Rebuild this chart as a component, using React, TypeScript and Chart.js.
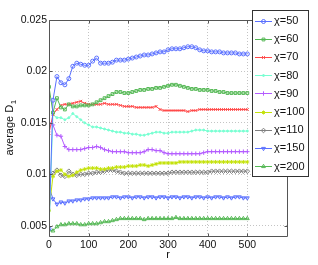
import React, { useEffect, useRef } from 'react';
import { Chart, registerables } from 'chart.js';
import { drawPoint } from 'chart.js/helpers';

Chart.register(...registerables);

const rValues = [
  0, 10, 20, 30, 40, 50, 60, 70, 80, 90,
  100, 110, 120, 130, 140, 150, 160, 170, 180, 190,
  200, 210, 220, 230, 240, 250, 260, 270, 280, 290,
  300, 310, 320, 330, 340, 350, 360, 370, 380, 390,
  400, 410, 420, 430, 440, 450, 460, 470, 480, 490,
  500,
];

const seriesLabels = ['χ=50', 'χ=60', 'χ=70', 'χ=80', 'χ=90', 'χ=100', 'χ=110', 'χ=150', 'χ=200'];

const chi50 = [
  0.0047, 0.0172, 0.0195, 0.0189, 0.0187, 0.0193, 0.0205, 0.0208, 0.0207, 0.0206,
  0.0206, 0.0210, 0.0213, 0.0208, 0.0208, 0.0208, 0.0209, 0.0211, 0.0211, 0.0211,
  0.0212, 0.0213, 0.0214, 0.0215, 0.0216, 0.0216, 0.0217, 0.0218, 0.0219, 0.0219,
  0.0221, 0.0222, 0.0222, 0.0222, 0.0223, 0.0224, 0.0224, 0.0223, 0.0221, 0.0220,
  0.0220, 0.0219, 0.0219, 0.0219, 0.0218, 0.0218, 0.0218, 0.0218, 0.0217, 0.0217,
  0.0217,
];
const chi60 = [
  0.0185, 0.0160, 0.0174, 0.0165, 0.0163, 0.0168, 0.0166, 0.0166, 0.0167, 0.0167,
  0.0167, 0.0168, 0.0170, 0.0172, 0.0174, 0.0176, 0.0178, 0.0180, 0.0180, 0.0179,
  0.0179, 0.0180, 0.0181, 0.0182, 0.0182, 0.0183, 0.0183, 0.0184, 0.0184, 0.0185,
  0.0186, 0.0187, 0.0187, 0.0186, 0.0185, 0.0184, 0.0183, 0.0183, 0.0182, 0.0182,
  0.0182, 0.0181, 0.0181, 0.0180, 0.0180, 0.0179, 0.0179, 0.0179, 0.0179, 0.0179,
  0.0179,
];
const chi70 = [
  0.0140, 0.0158, 0.0163, 0.0167, 0.0168, 0.0168, 0.0169, 0.0170, 0.0171, 0.0169,
  0.0168, 0.0168, 0.0168, 0.0168, 0.0169, 0.0168, 0.0168, 0.0168, 0.0167, 0.0166,
  0.0166, 0.0166, 0.0165, 0.0165, 0.0165, 0.0165, 0.0165, 0.0166, 0.0163, 0.0162,
  0.0162, 0.0162, 0.0162, 0.0162, 0.0162, 0.0161, 0.0162, 0.0162, 0.0163, 0.0163,
  0.0163, 0.0163, 0.0163, 0.0163, 0.0163, 0.0163, 0.0163, 0.0163, 0.0163, 0.0163,
  0.0163,
];
const chi80 = [
  0.0046, 0.0158, 0.0155, 0.0155, 0.0153, 0.0155, 0.0159, 0.0156, 0.0153, 0.0150,
  0.0148, 0.0146, 0.0146, 0.0145, 0.0144, 0.0143, 0.0142, 0.0141, 0.0141, 0.0140,
  0.0140, 0.0139, 0.0139, 0.0138, 0.0138, 0.0139, 0.0140, 0.0141, 0.0141, 0.0140,
  0.0140, 0.0141, 0.0141, 0.0141, 0.0141, 0.0141, 0.0142, 0.0143, 0.0143, 0.0143,
  0.0142, 0.0142, 0.0142, 0.0142, 0.0142, 0.0142, 0.0142, 0.0142, 0.0142, 0.0142,
  0.0142,
];
const chi90 = [
  0.0150, 0.0148, 0.0138, 0.0137, 0.0127, 0.0124, 0.0124, 0.0124, 0.0124, 0.0125,
  0.0126, 0.0126, 0.0127, 0.0126, 0.0124, 0.0123, 0.0122, 0.0122, 0.0122, 0.0122,
  0.0121, 0.0121, 0.0121, 0.0121, 0.0122, 0.0124, 0.0124, 0.0123, 0.0123, 0.0121,
  0.0120, 0.0120, 0.0120, 0.0120, 0.0120, 0.0120, 0.0120, 0.0120, 0.0120, 0.0121,
  0.0122, 0.0122, 0.0122, 0.0122, 0.0122, 0.0122, 0.0122, 0.0122, 0.0122, 0.0122,
  0.0122,
];
const chi100 = [
  0.0065, 0.0098, 0.0103, 0.0104, 0.0100, 0.0098, 0.0099, 0.0102, 0.0104, 0.0105,
  0.0106, 0.0106, 0.0106, 0.0105, 0.0105, 0.0106, 0.0106, 0.0107, 0.0107, 0.0107,
  0.0108, 0.0108, 0.0108, 0.0109, 0.0109, 0.0108, 0.0109, 0.0110, 0.0111, 0.0111,
  0.0111, 0.0111, 0.0111, 0.0112, 0.0112, 0.0112, 0.0112, 0.0112, 0.0112, 0.0112,
  0.0112, 0.0112, 0.0112, 0.0112, 0.0112, 0.0112, 0.0112, 0.0112, 0.0112, 0.0112,
  0.0112,
];
const chi110 = [
  0.0098, 0.0101, 0.0104, 0.0099, 0.0098, 0.0103, 0.0100, 0.0099, 0.0100, 0.0100,
  0.0101, 0.0101, 0.0102, 0.0102, 0.0103, 0.0104, 0.0104, 0.0103, 0.0102, 0.0101,
  0.0101, 0.0101, 0.0101, 0.0101, 0.0101, 0.0101, 0.0101, 0.0101, 0.0101, 0.0101,
  0.0101, 0.0102, 0.0102, 0.0102, 0.0102, 0.0102, 0.0102, 0.0102, 0.0102, 0.0102,
  0.0102, 0.0103, 0.0103, 0.0103, 0.0103, 0.0103, 0.0103, 0.0103, 0.0103, 0.0103,
  0.0103,
];
const chi150 = [
  0.0088, 0.0076, 0.0071, 0.0073, 0.0072, 0.0074, 0.0074, 0.0075, 0.0075, 0.0076,
  0.0076, 0.0077, 0.0077, 0.0077, 0.0077, 0.0077, 0.0078, 0.0078, 0.0077, 0.0078,
  0.0078, 0.0077, 0.0078, 0.0078, 0.0077, 0.0078, 0.0078, 0.0077, 0.0078, 0.0078,
  0.0077, 0.0078, 0.0078, 0.0077, 0.0078, 0.0078, 0.0077, 0.0078, 0.0078, 0.0077,
  0.0078, 0.0077, 0.0078, 0.0078, 0.0077, 0.0078, 0.0077, 0.0078, 0.0078, 0.0077,
  0.0077,
];
const chi200 = [
  0.0046, 0.0045, 0.0049, 0.0051, 0.0051, 0.0052, 0.0052, 0.0052, 0.0051, 0.0051,
  0.0052, 0.0052, 0.0052, 0.0053, 0.0054, 0.0054, 0.0055, 0.0056, 0.0057, 0.0057,
  0.0057, 0.0057, 0.0057, 0.0057, 0.0056, 0.0057, 0.0057, 0.0057, 0.0057, 0.0057,
  0.0057, 0.0057, 0.0058, 0.0057, 0.0057, 0.0057, 0.0057, 0.0057, 0.0057, 0.0057,
  0.0057, 0.0057, 0.0057, 0.0057, 0.0057, 0.0057, 0.0057, 0.0057, 0.0057, 0.0057,
  0.0057,
];

const seriesValues = [chi50, chi60, chi70, chi80, chi90, chi100, chi110, chi150, chi200];

const xTicks = [0, 100, 200, 300, 400, 500];
const yTicks = [0.005, 0.01, 0.015, 0.02, 0.025];
const yTickLabels = ['0.005', '0.01', '0.015', '0.02', '0.025'];

const colors = ['#5a70ff', '#55b855', '#ff4a4a', '#78ffd2', '#b45cff', '#c4e20c', '#808080', '#5a70ff', '#55b855'];
const markers: any[] = ['circle', 'rect', 'crossRot', 'circle', 'cross', 'star', 'rectRot', 'triangle', 'triangle'];
const markerRadius = [2, 2, 2, 1, 2.2, 2, 2.3, 2.2, 2.2];
const markerRotation = [0, 0, 0, 0, 0, 0, 0, 180, 0];
const markerFilled = [false, false, false, true, false, false, false, false, false];

const FONT = "'Liberation Sans', Arial, Helvetica, sans-serif";
const AXIS_COLOR = '#555555';

const overlayPlugin = {
  id: 'overlay',
  afterDatasetsDraw(chart: any) {
    const { ctx, chartArea } = chart;
    const xs = chart.scales.x;
    const ys = chart.scales.y;
    ctx.save();
    // box
    ctx.strokeStyle = AXIS_COLOR;
    ctx.lineWidth = 1;
    const L = Math.round(chartArea.left) + 0.5;
    const R = Math.round(chartArea.right) + 0.5;
    const T = Math.round(chartArea.top) + 0.5;
    const B = Math.round(chartArea.bottom) + 0.5;
    ctx.beginPath();
    ctx.rect(L, T, R - L, B - T);
    ctx.stroke();
    // inward tick marks
    ctx.beginPath();
    xTicks.forEach((v) => {
      const px = Math.round(xs.getPixelForValue(v)) + 0.5;
      ctx.moveTo(px, B);
      ctx.lineTo(px, B - 3);
      ctx.moveTo(px, T);
      ctx.lineTo(px, T + 3);
    });
    yTicks.forEach((v) => {
      const py = Math.round(ys.getPixelForValue(v)) + 0.5;
      ctx.moveTo(L, py);
      ctx.lineTo(L + 3, py);
      ctx.moveTo(R, py);
      ctx.lineTo(R - 3, py);
    });
    ctx.stroke();

    // legend
    const lx = 252.5, ly = 10.5, lw = 56, lh = 166;
    ctx.fillStyle = '#ffffff';
    ctx.fillRect(lx, ly, lw, lh);
    ctx.strokeStyle = '#333333';
    ctx.strokeRect(lx, ly, lw, lh);
    ctx.font = `11px ${FONT}`;
    ctx.textBaseline = 'middle';
    ctx.textAlign = 'left';
    seriesLabels.forEach((label, i) => {
      const cy = 20.5 + i * 18.2;
      ctx.strokeStyle = colors[i];
      ctx.lineWidth = 1;
      ctx.beginPath();
      ctx.moveTo(255, Math.round(cy) + 0.5);
      ctx.lineTo(272, Math.round(cy) + 0.5);
      ctx.stroke();
      ctx.fillStyle = markerFilled[i] ? colors[i] : 'rgba(0,0,0,0)';
      ctx.strokeStyle = colors[i];
      drawPoint(ctx, { pointStyle: markers[i], radius: markerRadius[i], rotation: markerRotation[i], borderWidth: 1 } as any, 263.5, Math.round(cy) + 0.5);
      ctx.fillStyle = '#111111';
      ctx.fillText(label, 274, cy + 0.5);
    });
    ctx.restore();
  },
  afterDraw(chart: any) {
    const { ctx, chartArea } = chart;
    ctx.save();
    ctx.fillStyle = '#111111';
    // x title
    ctx.font = `11px ${FONT}`;
    ctx.textAlign = 'center';
    ctx.textBaseline = 'middle';
    ctx.fillText('r', (chartArea.left + chartArea.right) / 2, 255);
    // y title with subscript
    const main = 'average D';
    const sub = '1';
    ctx.font = `11px ${FONT}`;
    const w1 = ctx.measureText(main).width;
    ctx.font = `8px ${FONT}`;
    const w2 = ctx.measureText(sub).width;
    ctx.translate(13, (chartArea.top + chartArea.bottom) / 2);
    ctx.rotate(-Math.PI / 2);
    ctx.textAlign = 'left';
    ctx.textBaseline = 'alphabetic';
    const start = -(w1 + w2) / 2;
    ctx.font = `11px ${FONT}`;
    ctx.fillText(main, start, 0);
    ctx.font = `8px ${FONT}`;
    ctx.fillText(sub, start + w1 + 0.5, 3);
    ctx.restore();
  },
};

export default function App() {
  const canvasRef = useRef<HTMLCanvasElement | null>(null);

  useEffect(() => {
    document.body.style.margin = '0';
    const canvas = canvasRef.current;
    if (!canvas) return;
    const datasets = seriesValues.map((vals, i) => ({
      label: seriesLabels[i],
      data: rValues.map((r, j) => ({ x: r, y: vals[j] })),
      borderColor: colors[i],
      backgroundColor: colors[i],
      borderWidth: 1,
      pointStyle: markers[i],
      pointRadius: markerRadius[i],
      pointRotation: markerRotation[i],
      pointBorderWidth: 1,
      pointBorderColor: colors[i],
      pointBackgroundColor: markerFilled[i] ? colors[i] : 'rgba(0,0,0,0)',
      tension: 0,
      fill: false,
    }));
    const chart = new Chart(canvas, {
      type: 'line',
      data: { datasets },
      options: {
        responsive: false,
        animation: false,
        devicePixelRatio: 1,
        layout: { padding: { left: 0, top: 20, right: 31, bottom: 0 } },
        plugins: { legend: { display: false }, tooltip: { enabled: false } },
        scales: {
          x: {
            type: 'linear',
            min: 0,
            max: 600,
            afterBuildTicks: (scale: any) => {
              scale.ticks = xTicks.map((v) => ({ value: v }));
            },
            afterFit: (scale: any) => {
              scale.height = 29;
            },
            ticks: {
              padding: 3,
              color: '#111111',
              font: { family: FONT, size: 10.5 },
              maxRotation: 0,
              autoSkip: false,
              callback: (v: any) => String(v),
            },
            grid: {
              drawTicks: false,
              color: (c: any) => (c.tick && (c.tick.value === 0) ? 'rgba(0,0,0,0)' : '#c4c4c4'),
              lineWidth: 1,
            },
            border: { display: false, dash: [1, 2] },
          },
          y: {
            type: 'linear',
            min: 0.004,
            max: 0.025,
            afterBuildTicks: (scale: any) => {
              scale.ticks = yTicks.map((v) => ({ value: v }));
            },
            afterFit: (scale: any) => {
              scale.width = 49;
            },
            ticks: {
              padding: 2,
              color: '#111111',
              font: { family: FONT, size: 10.5 },
              autoSkip: false,
              callback: (v: any) => {
                const idx = yTicks.findIndex((t) => Math.abs(t - v) < 1e-9);
                return idx >= 0 ? yTickLabels[idx] : '';
              },
            },
            grid: {
              drawTicks: false,
              color: (c: any) => (c.tick && Math.abs(c.tick.value - 0.025) < 1e-9 ? 'rgba(0,0,0,0)' : '#c4c4c4'),
              lineWidth: 1,
            },
            border: { display: false, dash: [1, 2] },
          },
        },
      },
      plugins: [overlayPlugin],
    } as any);
    return () => {
      chart.destroy();
    };
  }, []);

  return (
    <div style={{ position: 'absolute', left: 0, top: 0, width: 318, height: 265, background: '#ffffff' }}>
      <canvas ref={canvasRef} width={318} height={265} style={{ width: 318, height: 265, display: 'block' }} />
    </div>
  );
}
